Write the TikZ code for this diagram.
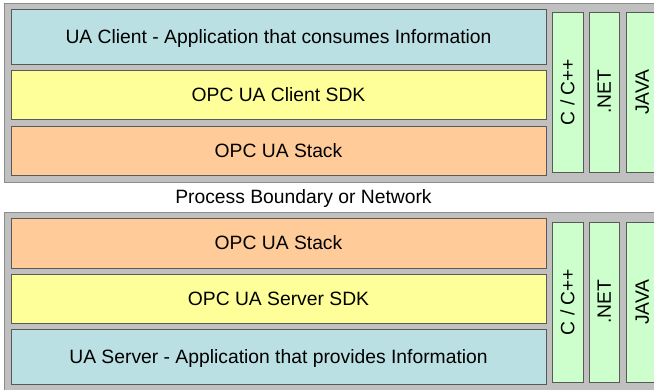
\documentclass[tikz,border=0pt]{standalone}
\usepackage{fontspec}
\setmainfont{Liberation Sans}
\usepackage{tikz}

\definecolor{panelgray}{HTML}{C0C0C0}
\definecolor{appblue}{HTML}{BBE0E3}
\definecolor{sdkyellow}{HTML}{FFFF99}
\definecolor{stackorange}{HTML}{FFCC99}
\definecolor{langgreen}{HTML}{CCFFCC}

\begin{document}
\begin{tikzpicture}[x=1pt,y=-1pt]
    \tikzstyle{panel}=[fill=panelgray,draw=black!45,line width=1pt]
    \tikzstyle{layer}=[rectangle,draw=black!65,line width=0.9pt,minimum width=535pt,inner sep=0pt,text height=13.8pt,text depth=0pt,font=\fontsize{19.3}{22}\selectfont]
    \tikzstyle{lang}=[rectangle,draw=black!65,line width=0.9pt,fill=langgreen,rotate=90,minimum width=160pt,inner sep=0pt,text height=13.8pt,text depth=0pt,font=\fontsize{19.3}{22}\selectfont]
    \useasboundingbox (0,0) rectangle (654,389);
    \clip (0,0) rectangle (654,389);
    \fill [white] (0,0) rectangle (654,389);
    % client side
    \path [panel] (4,3) rectangle (670,182);
    \node (capp)   at (278.5,36.5)  [layer,fill=appblue,minimum height=55pt]     {UA Client - Application that consumes Information};
    \node (csdk)   at (278.5,94.5)  [layer,fill=sdkyellow,minimum height=49pt]   {OPC UA Client SDK};
    \node (cstack) at (278.5,150.5) [layer,fill=stackorange,minimum height=49pt] {OPC UA Stack};
    \node (ccpp)   at (567.5,92) [lang,minimum height=31pt] {C / C++};
    \node (cnet)   at (604,92)   [lang,minimum height=30pt] {.NET};
    \node (cjava)  at (642,92)   [lang,minimum height=32pt] {JAVA};
    % boundary
    \node (boundary) at (303.5,197) [text height=13.8pt,text depth=0pt,font=\fontsize{19.3}{22}\selectfont] {Process Boundary or Network};
    % server side
    \path [panel] (4,212) rectangle (670,400);
    \node (sstack) at (278.5,243)   [layer,fill=stackorange,minimum height=50pt] {OPC UA Stack};
    \node (ssdk)   at (278.5,298.5) [layer,fill=sdkyellow,minimum height=49pt]   {OPC UA Server SDK};
    \node (sapp)   at (278.5,356.5) [layer,fill=appblue,minimum height=55pt]     {UA Server - Application that provides Information};
    \node (scpp)   at (567.5,302) [lang,minimum height=31pt] {C / C++};
    \node (snet)   at (604,302)   [lang,minimum height=30pt] {.NET};
    \node (sjava)  at (642,302)   [lang,minimum height=32pt] {JAVA};
\end{tikzpicture}
\end{document}
